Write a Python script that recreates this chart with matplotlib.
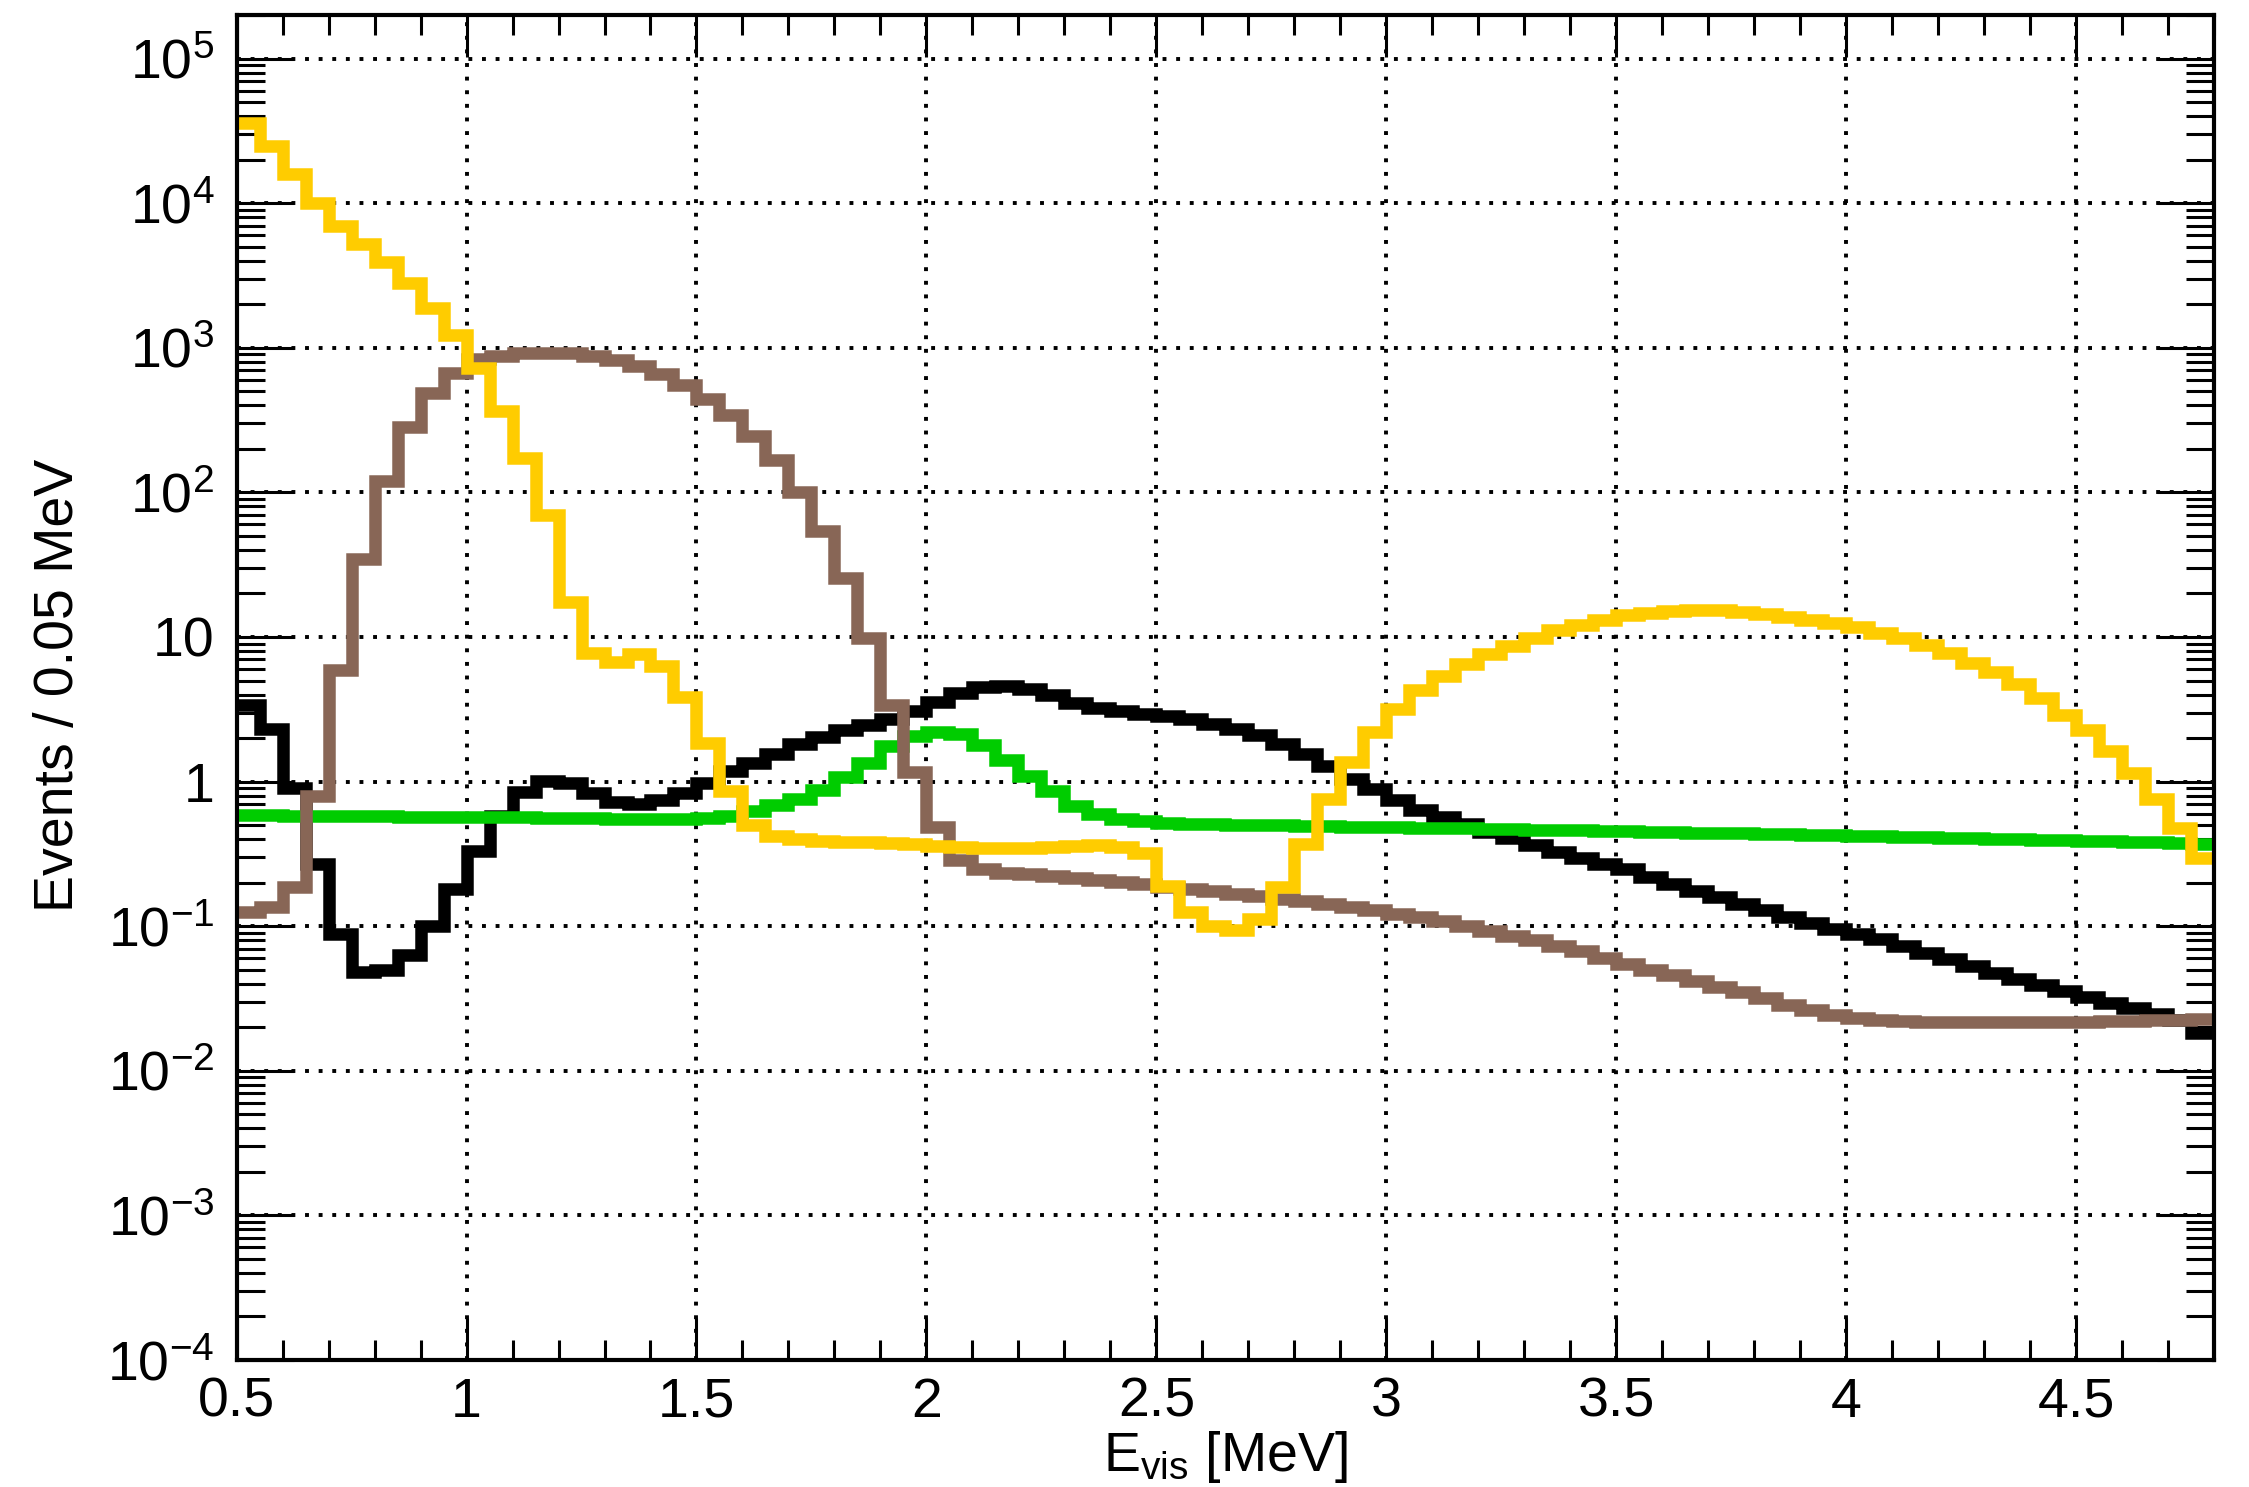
import numpy as np
import matplotlib
matplotlib.use("Agg")
import matplotlib.pyplot as plt
from matplotlib.ticker import LogLocator, FixedLocator, MultipleLocator, NullFormatter

plt.rcParams['font.family'] = ['Liberation Sans', 'DejaVu Sans']
plt.rcParams['mathtext.fontset'] = 'custom'
plt.rcParams['mathtext.rm'] = 'Liberation Sans'
plt.rcParams['mathtext.it'] = 'Liberation Sans'

# ---- data ----
bin_low = 0.5
bin_width = 0.05
n_bins = 86

yellow = [35900, 24700, 15800, 10000, 7000, 5200, 3900, 2790, 1880, 1230,
          720, 368, 172, 70, 17.4, 7.7, 6.7, 7.6, 6.3, 3.85,
          1.85, 0.86, 0.50, 0.42, 0.40, 0.39, 0.385, 0.38, 0.375, 0.37,
          0.36, 0.355, 0.35, 0.35, 0.35, 0.355, 0.36, 0.365, 0.355, 0.32,
          0.19, 0.125, 0.10, 0.094, 0.113, 0.187, 0.372, 0.76, 1.37, 2.19,
          3.2, 4.3, 5.4, 6.5, 7.6, 8.7, 9.9, 11.1, 12.1, 13.1,
          14.1, 14.7, 15.2, 15.4, 15.3, 14.8, 14.5, 13.8, 13.1, 12.5,
          11.8, 10.7, 9.8, 8.8, 7.7, 6.65, 5.7, 4.75, 3.77, 2.9,
          2.26, 1.64, 1.14, 0.755, 0.475, 0.295]

brown = [0.125, 0.135, 0.188, 0.79, 5.9, 34.6, 120, 284, 484, 667,
         840, 879, 916, 927, 916, 879, 824, 750, 656, 551,
         443, 344, 246, 167, 100, 54, 25.4, 9.8, 3.37, 1.17,
         0.484, 0.288, 0.247, 0.235, 0.228, 0.222, 0.216, 0.21, 0.203, 0.196,
         0.188, 0.180, 0.174, 0.168, 0.161, 0.155, 0.149, 0.143, 0.136, 0.129,
         0.122, 0.116, 0.108, 0.100, 0.093, 0.086, 0.080, 0.073, 0.067, 0.060,
         0.055, 0.050, 0.046, 0.042, 0.038, 0.035, 0.0317, 0.0287, 0.0262, 0.0245,
         0.0233, 0.0226, 0.0222, 0.0219, 0.0217, 0.0216, 0.0216, 0.0216, 0.0217, 0.0218,
         0.0219, 0.0220, 0.0222, 0.0224, 0.0226, 0.0228]

black = [3.4, 2.3, 0.90, 0.27, 0.089, 0.0486, 0.050, 0.063, 0.101, 0.18,
         0.33, 0.58, 0.85, 1.01, 0.98, 0.835, 0.72, 0.70, 0.75, 0.84,
         0.98, 1.18, 1.35, 1.56, 1.81, 2.02, 2.27, 2.46, 2.73, 3.06,
         3.54, 4.1, 4.5, 4.56, 4.34, 4.0, 3.52, 3.21, 3.06, 2.94,
         2.82, 2.71, 2.5, 2.3, 2.09, 1.82, 1.55, 1.28, 1.05, 0.885,
         0.747, 0.637, 0.567, 0.505, 0.451, 0.405, 0.365, 0.328, 0.295, 0.27,
         0.247, 0.22, 0.197, 0.175, 0.158, 0.142, 0.129, 0.115, 0.105, 0.096,
         0.0885, 0.081, 0.0726, 0.0657, 0.059, 0.053, 0.0477, 0.0434, 0.0393, 0.0359,
         0.0326, 0.0296, 0.027, 0.0247, 0.0226, 0.0184]

green = [0.585, 0.585, 0.58, 0.58, 0.578, 0.575, 0.575, 0.572, 0.57, 0.57,
         0.568, 0.566, 0.565, 0.563, 0.56, 0.558, 0.555, 0.552, 0.55, 0.552,
         0.56, 0.58, 0.63, 0.69, 0.76, 0.87, 1.07, 1.35, 1.75, 2.08,
         2.2, 2.12, 1.78, 1.42, 1.09, 0.855, 0.68, 0.60, 0.551, 0.53,
         0.515, 0.51, 0.506, 0.503, 0.50, 0.498, 0.495, 0.492, 0.489, 0.486,
         0.483, 0.48, 0.477, 0.474, 0.471, 0.468, 0.465, 0.462, 0.459, 0.456,
         0.453, 0.45, 0.447, 0.444, 0.441, 0.438, 0.435, 0.432, 0.429, 0.425,
         0.422, 0.419, 0.416, 0.413, 0.41, 0.406, 0.403, 0.40, 0.397, 0.394,
         0.39, 0.387, 0.384, 0.38, 0.377, 0.373]

x_ticks = [0.5, 1, 1.5, 2, 2.5, 3, 3.5, 4, 4.5]
x_tick_labels = ['0.5', '1', '1.5', '2', '2.5', '3', '3.5', '4', '4.5']
y_ticks = [1e-4, 1e-3, 1e-2, 1e-1, 1, 10, 1e2, 1e3, 1e4, 1e5]
y_tick_labels = [r'$\mathregular{10^{-4}}$', r'$\mathregular{10^{-3}}$', r'$\mathregular{10^{-2}}$',
                 r'$\mathregular{10^{-1}}$', '1', '10', r'$\mathregular{10^{2}}$',
                 r'$\mathregular{10^{3}}$', r'$\mathregular{10^{4}}$', r'$\mathregular{10^{5}}$']

edges = np.round(bin_low + bin_width * np.arange(n_bins + 1), 4)

# ---- figure ----
fig = plt.figure(figsize=(22.49, 14.87), dpi=100)
ax = fig.add_axes([0.1052, 0.0854, 0.9845 - 0.1052, 0.9899 - 0.0854])
ax.set_yscale('log')
ax.set_xlim(0.5, 4.8)
ax.set_ylim(1e-4, 2.0e5)

lw = 9.0
series = [(black, 'black', 3), (green, '#00cc00', 4), (brown, '#886656', 5), (yellow, '#ffcc00', 6)]
for vals, col, z in series:
    sp = ax.stairs(vals, edges, baseline=None, color=col, linewidth=lw, zorder=z)
    sp.set_joinstyle('miter')
    sp.set_capstyle('butt')

ax.grid(True, which='major', color='black', linestyle=(0, (1, 2.5)), linewidth=2.8, zorder=1)

ax.xaxis.set_major_locator(FixedLocator(x_ticks))
ax.set_xticklabels(x_tick_labels)
ax.xaxis.set_minor_locator(MultipleLocator(0.1))
ax.yaxis.set_major_locator(FixedLocator(y_ticks))
ax.set_yticklabels(y_tick_labels)
ax.yaxis.set_minor_locator(LogLocator(base=10, subs=np.arange(2, 10), numticks=100))
ax.yaxis.set_minor_formatter(NullFormatter())

ax.tick_params(axis='both', which='both', direction='in', top=True, right=True,
               labelsize=40, width=2.2, colors='black')
ax.tick_params(axis='x', which='major', length=30, pad=12)
ax.tick_params(axis='x', which='minor', length=14.5)
ax.tick_params(axis='y', which='major', length=41, pad=16)
ax.tick_params(axis='y', which='minor', length=20.5)

for s in ax.spines.values():
    s.set_linewidth(3.0)
    s.set_zorder(10)

fig.text(0.545, 0.011, r'$\mathregular{E_{vis}}$ [MeV]', ha='center', va='baseline', fontsize=40)
fig.text(0.0262, 0.539, 'Events / 0.05 MeV', rotation=90, ha='center', va='center', fontsize=40)

fig.savefig('out.png', dpi=100)
